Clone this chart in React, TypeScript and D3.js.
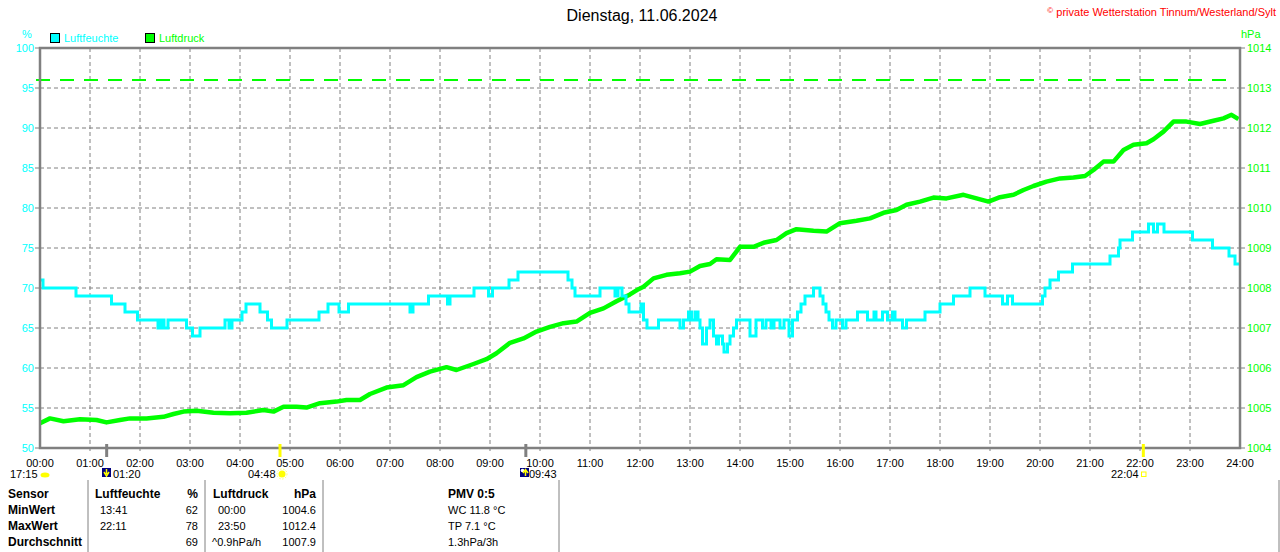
import React from "react";
import * as d3 from "d3";

const W = 1280;
const H = 552;
const M = { left: 40, right: 1240, top: 48, bottom: 448 };

const hourTicks = d3.range(0, 25);
const humTicks = [50, 55, 60, 65, 70, 75, 80, 85, 90, 95, 100];
const pressTicks = [1004, 1005, 1006, 1007, 1008, 1009, 1010, 1011, 1012, 1013, 1014];

// Luftfeuchte (%): step changes (hour of day, value)
const humHours = [0, 0.06, 0.72, 1.43, 1.7, 1.95, 2.36, 2.42, 2.48, 2.56, 2.93, 3.05, 3.2, 3.7, 3.78, 3.84, 4.04, 4.12, 4.4, 4.55, 4.63, 4.94, 5.58, 5.76, 5.98, 6.17, 7.4, 7.46, 7.77, 8.15, 8.2, 8.68, 8.97, 9.05, 9.38, 9.56, 10.56, 10.64, 10.7, 11.2, 11.5, 11.56, 11.64, 11.72, 11.78, 12.02, 12.07, 12.14, 12.37, 12.8, 12.87, 12.97, 13.03, 13.1, 13.16, 13.2, 13.25, 13.33, 13.4, 13.47, 13.53, 13.57, 13.65, 13.68, 13.75, 13.8, 13.87, 13.93, 14.2, 14.32, 14.45, 14.52, 14.62, 14.68, 14.8, 14.88, 14.98, 15.05, 15.15, 15.22, 15.3, 15.47, 15.6, 15.66, 15.72, 15.78, 15.85, 15.92, 16.05, 16.12, 16.35, 16.55, 16.68, 16.72, 16.85, 16.95, 17.05, 17.1, 17.25, 17.33, 17.7, 18.0, 18.27, 18.6, 18.9, 19.25, 19.35, 19.45, 20.05, 20.1, 20.2, 20.37, 20.65, 21.4, 21.57, 21.6, 21.85, 22.17, 22.27, 22.35, 22.48, 23.05, 23.45, 23.78, 23.9, 23.98];
const humValues = [71, 70, 69, 68, 67, 66, 65, 66, 65, 66, 65, 64, 65, 66, 65, 66, 67, 68, 67, 66, 65, 66, 67, 68, 67, 68, 67, 68, 69, 68, 69, 70, 69, 70, 71, 72, 71, 70, 69, 70, 69, 70, 69, 68, 67, 68, 66, 65, 66, 65, 66, 67, 66, 67, 66, 65, 63, 65, 66, 64, 63, 64, 63, 62, 63, 64, 65, 66, 64, 66, 65, 66, 65, 66, 65, 66, 64, 66, 67, 68, 69, 70, 69, 68, 67, 66, 65, 66, 65, 66, 67, 66, 67, 66, 67, 66, 67, 66, 65, 66, 67, 68, 69, 70, 69, 68, 69, 68, 69, 70, 71, 72, 73, 74, 75, 76, 77, 78, 77, 78, 77, 76, 75, 74, 73, 73];

// Luftdruck (hPa)
const pressHours = [0, 0.2, 0.47, 0.8, 1.13, 1.33, 1.6, 1.8, 2.13, 2.47, 2.67, 2.87, 3.13, 3.47, 3.8, 4.13, 4.47, 4.67, 4.87, 5.13, 5.33, 5.6, 5.93, 6.13, 6.4, 6.6, 6.93, 7.27, 7.53, 7.8, 8.13, 8.33, 8.67, 8.93, 9.13, 9.4, 9.67, 9.93, 10.2, 10.47, 10.73, 11.0, 11.27, 11.53, 11.8, 11.97, 12.07, 12.27, 12.53, 12.8, 13.0, 13.2, 13.4, 13.53, 13.8, 14.0, 14.27, 14.47, 14.73, 14.93, 15.13, 15.47, 15.73, 16.0, 16.33, 16.6, 16.87, 17.13, 17.33, 17.6, 17.87, 18.13, 18.47, 18.73, 18.97, 19.2, 19.47, 19.67, 19.87, 20.13, 20.4, 20.67, 20.9, 21.07, 21.27, 21.47, 21.67, 21.87, 22.13, 22.27, 22.47, 22.67, 22.93, 23.2, 23.47, 23.67, 23.83, 23.97];
const pressValues = [1004.62, 1004.74, 1004.67, 1004.72, 1004.7, 1004.64, 1004.7, 1004.74, 1004.74, 1004.78, 1004.85, 1004.91, 1004.93, 1004.88, 1004.87, 1004.88, 1004.95, 1004.91, 1005.03, 1005.03, 1005.01, 1005.12, 1005.16, 1005.2, 1005.2, 1005.35, 1005.51, 1005.57, 1005.77, 1005.91, 1006.02, 1005.95, 1006.1, 1006.22, 1006.37, 1006.63, 1006.74, 1006.91, 1007.03, 1007.12, 1007.16, 1007.38, 1007.49, 1007.67, 1007.84, 1007.97, 1008.03, 1008.24, 1008.33, 1008.37, 1008.41, 1008.55, 1008.6, 1008.72, 1008.7, 1009.03, 1009.03, 1009.13, 1009.2, 1009.37, 1009.47, 1009.43, 1009.41, 1009.62, 1009.68, 1009.74, 1009.88, 1009.95, 1010.08, 1010.16, 1010.26, 1010.24, 1010.33, 1010.24, 1010.16, 1010.27, 1010.33, 1010.45, 1010.55, 1010.66, 1010.74, 1010.76, 1010.8, 1010.95, 1011.16, 1011.16, 1011.45, 1011.58, 1011.62, 1011.72, 1011.91, 1012.16, 1012.16, 1012.1, 1012.18, 1012.24, 1012.33, 1012.22];

const refPressure = 1013.2;

// Sun / moon events (hour of day)
const grayMarks = [1 + 20 / 60, 9 + 43 / 60];
const yellowMarks = [4 + 48 / 60, 22 + 4 / 60];

const tableRows = [
  ["MinWert", "13:41", "62", "00:00", "1004.6"],
  ["MaxWert", "22:11", "78", "23:50", "1012.4"],
  ["Durchschnitt", "", "69", "^0.9hPa/h", "1007.9"],
];
const pmvLines = ["WC 11.8 °C", "TP 7.1 °C", "1.3hPa/3h"];

const CYAN = "#00FFFF";
const GREEN = "#00FF00";
const GRAY = "#808080";
const FONT = "'Liberation Sans', Arial, sans-serif";

export default function App() {
  const x = d3.scaleLinear().domain([0, 24]).range([M.left, M.right]);
  const yH = d3.scaleLinear().domain([50, 100]).range([M.bottom, M.top]);
  const yP = d3.scaleLinear().domain([1004, 1014]).range([M.bottom, M.top]);

  const humLine = d3
    .line<number>()
    .x((_, i) => x(humHours[i]))
    .y((v) => yH(v))
    .curve(d3.curveStepAfter)(humValues) as string;

  const pressLine = d3
    .line<number>()
    .x((_, i) => x(pressHours[i]))
    .y((v) => yP(v))(pressValues) as string;

  const rowY = [498, 514, 530, 546];

  return (
    <svg
      width={W}
      height={H}
      style={{ position: "absolute", left: 0, top: 0, background: "#fff" }}
      fontFamily={FONT}
    >
      <rect x={0} y={0} width={W} height={H} fill="#fff" />
      {/* title */}
      <text x={642} y={21} fontSize={16} textAnchor="middle" fill="#000">
        Dienstag, 11.06.2024
      </text>
      <text x={1276} y={16} fontSize={11} textAnchor="end" fill="#FF0000">
        <tspan fontSize={8} dy={-3}>©</tspan>
        <tspan dy={3}> private Wetterstation Tinnum/Westerland/Sylt</tspan>
      </text>

      {/* legend */}
      <text x={27} y={38} fontSize={11} fill={CYAN} textAnchor="middle">%</text>
      <rect x={50.5} y={33.5} width={9} height={9} fill={CYAN} stroke="#000" strokeWidth={1} />
      <text x={64} y={42} fontSize={11} fill={CYAN}>Luftfeuchte</text>
      <rect x={145.5} y={33.5} width={9} height={9} fill={GREEN} stroke="#000" strokeWidth={1} />
      <text x={159} y={42} fontSize={11} fill={GREEN}>Luftdruck</text>
      <text x={1241} y={38} fontSize={11} fill={GREEN}>hPa</text>

      {/* grid */}
      {hourTicks.slice(1, 24).map((h) => (
        <line key={"vg" + h} x1={x(h)} x2={x(h)} y1={M.top} y2={M.bottom + 4} stroke={GRAY} strokeDasharray="4,3" />
      ))}
      {humTicks.slice(1, 10).map((v) => (
        <line key={"hg" + v} x1={M.left} x2={M.right} y1={yH(v)} y2={yH(v)} stroke={GRAY} strokeDasharray="4,3" />
      ))}

      {/* reference line */}
      <line x1={36} x2={1230} y1={yP(refPressure)} y2={yP(refPressure)} stroke={GREEN} strokeWidth={2} strokeDasharray="14,10" />

      {/* series */}
      <path d={pressLine} fill="none" stroke={GREEN} strokeWidth={4.5} strokeLinejoin="round" />
      <path d={humLine} fill="none" stroke={CYAN} strokeWidth={3} />

      {/* frame */}
      <rect x={M.left} y={M.top} width={M.right - M.left} height={M.bottom - M.top} fill="none" stroke={GRAY} strokeWidth={2.5} />

      {/* left axis */}
      {humTicks.map((v) => (
        <g key={"yl" + v}>
          <line x1={35} x2={M.left} y1={yH(v)} y2={yH(v)} stroke={GRAY} />
          <text x={34} y={yH(v) + 4} fontSize={11} textAnchor="end" fill={CYAN}>
            {v}
          </text>
        </g>
      ))}
      {/* right axis */}
      {pressTicks.map((v) => (
        <g key={"yr" + v}>
          <line x1={M.right} x2={M.right + 5} y1={yP(v)} y2={yP(v)} stroke={GRAY} />
          <text x={M.right + 7} y={yP(v) + 4} fontSize={11} fill={GREEN}>
            {v}
          </text>
        </g>
      ))}
      {/* x axis labels */}
      {hourTicks.map((h) => (
        <text key={"xl" + h} x={x(h)} y={467} fontSize={11} textAnchor="middle" fill="#000">
          {String(h).padStart(2, "0")}:00
        </text>
      ))}

      {/* sun / moon marks */}
      {grayMarks.map((h) => (
        <line key={"gm" + h} x1={x(h)} x2={x(h)} y1={444} y2={457} stroke={GRAY} strokeWidth={3} />
      ))}
      {yellowMarks.map((h) => (
        <line key={"ym" + h} x1={x(h)} x2={x(h)} y1={444} y2={457} stroke="#FFFF00" strokeWidth={3} />
      ))}

      {/* event labels */}
      <text x={10} y={478} fontSize={11} fill="#000">17:15</text>
      <ellipse cx={45} cy={475} rx={4.5} ry={2.5} fill="#FFFF00" />
      <rect x={102} y={468} width={9} height={9} fill="#000080" />
      <path d="M106.5,469 L106.5,474 M104,472 L106.5,476 L109,472" stroke="#FFFF00" strokeWidth={1.5} fill="none" />
      <text x={113} y={478} fontSize={11} fill="#000">01:20</text>
      <text x={248} y={478} fontSize={11} fill="#000">04:48</text>
      <circle cx={282} cy={474} r={3.5} fill="#FFFF00" />
      <circle cx={282} cy={474} r={5} fill="none" stroke="#FFFF66" strokeDasharray="1.5,1.5" />
      <rect x={520} y={468} width={9} height={9} fill="#000080" />
      <circle cx={522.5} cy={470.5} r={1.8} fill="#fff" />
      <path d="M525.5,476 L525.5,471 M523,473 L525.5,469.5 L528,473" stroke="#FFFF00" strokeWidth={1.5} fill="none" />
      <text x={529} y={478} fontSize={11} fill="#000">09:43</text>
      <text x={1111} y={478} fontSize={11} fill="#000">22:04</text>
      <rect x={1141.5} y={472} width={4.5} height={4.5} fill="none" stroke="#FFFF00" strokeWidth={1} />

      {/* table separators */}
      {[88, 205, 323, 559, 1279].map((sx) => (
        <line key={"sep" + sx} x1={sx} x2={sx} y1={480} y2={552} stroke={GRAY} strokeWidth={1} />
      ))}

      {/* table */}
      <g fontSize={12} fill="#000">
        <text x={8} y={rowY[0]} fontWeight="bold">Sensor</text>
        <text x={95} y={rowY[0]} fontWeight="bold">Luftfeuchte</text>
        <text x={198} y={rowY[0]} fontWeight="bold" textAnchor="end">%</text>
        <text x={213} y={rowY[0]} fontWeight="bold">Luftdruck</text>
        <text x={316} y={rowY[0]} fontWeight="bold" textAnchor="end">hPa</text>
        <text x={448} y={rowY[0]} fontWeight="bold">PMV 0:5</text>
        {tableRows.map((r, i) => (
          <g key={"row" + i}>
            <text x={8} y={rowY[i + 1]} fontWeight="bold">{r[0]}</text>
            <text x={100} y={rowY[i + 1]} fontSize={11}>{r[1]}</text>
            <text x={198} y={rowY[i + 1]} fontSize={11} textAnchor="end">{r[2]}</text>
            <text x={i === 2 ? 212 : 218} y={rowY[i + 1]} fontSize={11}>{r[3]}</text>
            <text x={316} y={rowY[i + 1]} fontSize={11} textAnchor="end">{r[4]}</text>
            <text x={448} y={rowY[i + 1]} fontSize={11}>{pmvLines[i]}</text>
          </g>
        ))}
      </g>
    </svg>
  );
}
